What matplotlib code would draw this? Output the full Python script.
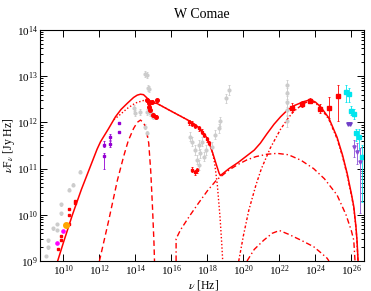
import numpy as np
import matplotlib
matplotlib.use("Agg")
import matplotlib.pyplot as plt
from matplotlib.ticker import FixedLocator, NullLocator, LogLocator, LogFormatterMathtext, NullFormatter

plt.rcParams['font.family'] = ['Liberation Serif', 'DejaVu Serif']
plt.rcParams['mathtext.fontset'] = 'stix'

# ---------------- data (log10 nu, log10 nuFnu) ----------------
# archival (grey)
grey_radio_lognu = [9.06, 9.13, 9.13, 9.41, 9.65, 9.65, 9.89, 9.89, 10.33, 10.54, 10.94]
grey_radio_logf = [9.11, 9.30, 9.45, 9.71, 9.67, 9.80, 10.03, 10.23, 10.54, 10.65, 10.93]
grey_opt_lognu = [13.9, 14.0, 14.28, 14.56, 14.62, 14.74, 14.70, 14.65, 14.83, 15.0, 14.56, 14.65, 14.93]
grey_opt_logf = [12.31, 12.2, 12.23, 13.05, 13.03, 12.72, 12.75, 12.23, 12.2, 12.14, 11.91, 11.76, 12.16]
grey_x_lognu = [17.06, 17.15, 17.33, 17.52, 17.6, 17.8, 17.43, 17.9, 18.26, 17.7, 17.55, 18.44, 18.63, 18.72, 19.05, 19.18]
grey_x_logf = [11.69, 11.58, 11.4, 11.51, 11.33, 11.26, 11.19, 11.4, 11.47, 11.58, 11.08, 11.73, 11.87, 12.02, 12.52, 12.7]
grey_g_lognu = [22.4, 22.4, 22.4, 22.4, 22.4]
grey_g_logf = [12.8, 12.63, 12.45, 12.27, 12.02]

# red (simultaneous data)
red_radio_lognu = [9.68, 9.87, 9.87, 10.33, 10.33, 10.33, 10.65, 10.65]
red_radio_logf = [9.25, 9.45, 9.55, 9.80, 10.0, 10.13, 10.25, 10.30]
magenta_lognu = [9.66, 10.0]
magenta_logf = [9.38, 9.66]
orange_lognu = [10.17]
orange_logf = [9.78]
purple_ir_lognu = [12.24, 12.24, 12.61, 12.61, 13.07, 13.07]
purple_ir_logf = [11.51, 11.28, 11.68, 11.53, 11.98, 11.80]
purple_ir_errlo = [0.05, 0.28, 0.06, 0.06, 0.0, 0.0]
purple_ir_errhi = [0.08, 0.05, 0.07, 0.06, 0.0, 0.0]
red_opt_lognu = [14.65, 14.93, 15.2, 14.74, 14.74, 14.83, 15.0, 15.17]
red_opt_logf = [12.48, 12.45, 12.48, 12.41, 12.34, 12.27, 12.16, 12.12]
red_x_lognu = [16.96, 17.15, 17.33, 17.52, 17.7, 17.8, 17.98, 18.07]
red_x_logf = [12.0, 11.97, 11.92, 11.87, 11.8, 11.73, 11.63, 11.55]
red_xlow_lognu = [17.15, 17.3, 17.42]
red_xlow_logf = [10.98, 10.92, 10.96]
red_g_lognu = [22.7, 23.26, 23.72, 24.24, 24.74, 25.24]
red_g_logf = [12.32, 12.4, 12.47, 12.3, 12.32, 12.58]
red_g_errlo = [0.09, 0.07, 0.06, 0.1, 0.23, 0.56]
red_g_errhi = [0.09, 0.07, 0.06, 0.1, 0.24, 0.23]
cyan_lognu = [25.71, 25.85, 25.98, 26.13, 26.28, 26.44, 26.59]
cyan_logf = [12.66, 12.61, 12.25, 12.18, 11.76, 11.69, 11.26]
cyan_errlo = [0.21, 0.16, 0.09, 0.11, 0.16, 0.29, 0.98]
cyan_errhi = [0.15, 0.14, 0.1, 0.1, 0.09, 0.16, 0.24]
violet_lognu = [26.13, 26.32, 26.5]
violet_logf = [11.47, 11.35, 11.15]
violet_errlo = [0.22, 0.25, 1.12]
violet_errhi = [0.15, 0.2, 0.3]
violet_ul_lognu = [25.79, 25.94]
violet_ul_logf = [11.97, 11.97]

# model curves
tot_lognu = [9.68, 10.0, 10.5, 11.0, 11.5, 11.87, 12.06, 12.5, 12.89, 13.2, 13.54, 13.9, 14.1, 14.28, 14.45,
             14.56, 14.8, 15.05, 15.2, 16.0, 17.06, 17.33, 17.6, 17.98, 18.1, 18.3, 18.5, 18.65, 18.72,
             19.2, 19.7, 20.2, 20.6, 20.94, 21.3, 21.7, 22.06, 22.4, 22.8, 23.35, 23.72, 24.0, 24.28,
             24.74, 25.2, 25.5, 25.76, 26.0, 26.13, 26.25, 26.31, 26.37]
tot_logf = [9.0, 9.4, 10.0, 10.55, 11.05, 11.42, 11.58, 11.86, 12.12, 12.28, 12.41, 12.54, 12.59, 12.61, 12.6,
            12.56, 12.47, 12.42, 12.41, 12.24, 12.02, 11.95, 11.86, 11.66, 11.55, 11.33, 11.08, 10.9, 10.85,
            11.0, 11.13, 11.28, 11.4, 11.55, 11.75, 11.96, 12.12, 12.25, 12.36, 12.45, 12.49, 12.44, 12.34,
            12.1, 11.68, 11.3, 10.9, 10.45, 10.18, 9.75, 9.45, 9.0]
syn_lognu = [12.8, 13.0, 13.54, 14.0, 14.5, 14.9, 15.2, 17.06, 17.5, 17.9, 18.1, 18.25, 18.4, 18.55, 18.7, 18.8, 18.85]
syn_logf = [12.06, 12.12, 12.3, 12.42, 12.48, 12.46, 12.41, 12.02, 11.88, 11.7, 11.56, 11.4, 11.12, 10.65, 9.95, 9.35, 9.0]
disk_lognu = [12.0, 12.5, 13.0, 13.35, 13.6, 13.9, 14.1, 14.28, 14.45, 14.6, 14.74, 14.85, 14.95, 15.03, 15.06]
disk_logf = [9.0, 9.85, 10.75, 11.27, 11.6, 11.87, 12.0, 12.05, 12.0, 11.85, 11.55, 10.95, 10.15, 9.4, 9.0]
ssc_lognu = [16.26, 16.26, 16.5, 17.0, 17.5, 18.0, 18.5, 18.72, 19.2, 19.7, 20.2, 20.7, 21.3, 21.87, 22.5,
             23.2, 23.9, 24.5, 25.2, 25.7, 26.0, 26.13, 26.2]
ssc_logf = [9.0, 9.48, 9.67, 9.97, 10.25, 10.52, 10.75, 10.82, 10.97, 11.09, 11.19, 11.26, 11.31, 11.33, 11.3,
            11.18, 11.0, 10.78, 10.43, 10.0, 9.65, 9.45, 9.0]
ec_lognu = [19.74, 20.0, 20.3, 20.7, 21.0, 21.5, 22.06, 22.5, 22.8, 23.35, 23.72, 24.0, 24.28, 24.74, 25.2,
            25.5, 25.76, 26.0, 26.13, 26.25, 26.31, 26.36]
ec_logf = [9.0, 9.55, 10.1, 10.65, 11.0, 11.45, 11.85, 12.1, 12.24, 12.41, 12.47, 12.42, 12.32, 12.07, 11.65,
           11.27, 10.87, 10.42, 10.15, 9.72, 9.43, 9.0]
ssc2_lognu = [20.2, 20.6, 21.13, 21.6, 22.0, 22.5, 23.2, 23.9, 24.3, 24.65, 24.75]
ssc2_logf = [9.0, 9.25, 9.45, 9.6, 9.66, 9.58, 9.45, 9.31, 9.18, 9.06, 9.0]

xtick_exps = [10, 12, 14, 16, 18, 20, 22, 24, 26]

# ---------------- plot ----------------
def p(a):
    return 10 ** np.asarray(a, dtype=float)


def yerr_of(logf, lo, hi):
    f = p(logf)
    return [f * (1 - 10 ** -np.asarray(lo, dtype=float)), f * (10 ** np.asarray(hi, dtype=float) - 1)]


W, H = 371, 291
fig = plt.figure(figsize=(W / 100, H / 100), dpi=100)
ax = fig.add_axes([40 / W, 1 - 261 / H, 324 / W, 231 / H])
ax.set_xscale('log')
ax.set_yscale('log')

RED = '#ff0000'
GREY = '#cccccc'
ms = 2.0
ebk = dict(elinewidth=0.6, capsize=0.9, capthick=0.6, linestyle='none')

# grey archival
for lx, ly, e in [(grey_radio_lognu, grey_radio_logf, 0.03), (grey_opt_lognu, grey_opt_logf, 0.06),
                  (grey_x_lognu, grey_x_logf, 0.1), (grey_g_lognu, grey_g_logf, 0.12)]:
    ax.errorbar(p(lx), p(ly), yerr=yerr_of(ly, [e] * len(ly), [e] * len(ly)),
                fmt='o', color=GREY, ms=ms, **ebk)

# models
lw = 1.0
ax.plot(p(disk_lognu), p(disk_logf), color=RED, lw=lw, ls=(0, (4, 2.5)))
ax.plot(p(syn_lognu), p(syn_logf), color=RED, lw=lw, ls=(0, (1, 1.5)))
ax.plot(p(ssc_lognu), p(ssc_logf), color=RED, lw=lw, ls=(0, (4, 2, 1, 2)))
ax.plot(p(ec_lognu), p(ec_logf), color=RED, lw=lw, ls=(0, (2, 1.5, 1, 1.5)))
ax.plot(p(ssc2_lognu), p(ssc2_logf), color=RED, lw=lw, ls=(0, (4, 2, 1, 2)))
ax.plot(p(tot_lognu), p(tot_logf), color=RED, lw=1.1)

# coloured data
ax.plot(p(red_radio_lognu), p(red_radio_logf), 's', color=RED, ms=ms)
ax.plot(p(magenta_lognu), p(magenta_logf), 'o', color='#ff00ff', ms=ms + 0.3)
ax.plot(p(orange_lognu), p(orange_logf), 'o', color='#ffa500', ms=ms + 2.0)
ax.errorbar(p(purple_ir_lognu), p(purple_ir_logf), yerr=yerr_of(purple_ir_logf, purple_ir_errlo, purple_ir_errhi),
            fmt='s', color='#9400d3', ms=ms, **ebk)
ax.errorbar(p(red_opt_lognu), p(red_opt_logf), yerr=yerr_of(red_opt_logf, [0.03] * 8, [0.03] * 8),
            fmt='o', color=RED, ms=ms + 0.6, **ebk)
xf = p(red_x_lognu)
ax.errorbar(xf, p(red_x_logf), xerr=[xf * (1 - 10 ** -0.06), xf * (10 ** 0.06 - 1)],
            yerr=yerr_of(red_x_logf, [0.05] * 8, [0.05] * 8), fmt='s', color=RED, ms=ms, **ebk)
xl = p(red_xlow_lognu)
ax.errorbar(xl, p(red_xlow_logf), xerr=[xl * (1 - 10 ** -0.06), xl * (10 ** 0.06 - 1)],
            yerr=yerr_of(red_xlow_logf, [0.05] * 3, [0.05] * 3), fmt='s', color=RED, ms=ms, **ebk)
ax.errorbar(p(red_g_lognu), p(red_g_logf), yerr=yerr_of(red_g_logf, red_g_errlo, red_g_errhi),
            fmt='s', color=RED, ms=ms + 0.4, **ebk)
ax.errorbar(p(cyan_lognu), p(cyan_logf), yerr=yerr_of(cyan_logf, cyan_errlo, cyan_errhi),
            fmt='s', color='#00e5ee', ms=ms + 0.3, **ebk)
ax.errorbar(p(violet_lognu), p(violet_logf), yerr=yerr_of(violet_logf, violet_errlo, violet_errhi),
            fmt='v', color='#8a4fd6', ms=ms + 0.3, **ebk)
ax.plot(p(violet_ul_lognu), p(violet_ul_logf), 'v', color='#7040c8', ms=ms + 0.5)

# axes
ax.set_xlim(5e8, 5e26)
ax.set_ylim(1e9, 1e14)
ax.xaxis.set_major_locator(FixedLocator([10.0 ** e for e in xtick_exps]))
ax.xaxis.set_minor_locator(NullLocator())
ax.xaxis.set_major_formatter(LogFormatterMathtext())
ax.yaxis.set_major_locator(LogLocator(base=10, numticks=20))
ax.yaxis.set_minor_locator(LogLocator(base=10, subs=np.arange(2, 10), numticks=20))
ax.yaxis.set_minor_formatter(NullFormatter())
ax.tick_params(which='both', direction='in', top=True, right=True, labelsize=8, width=0.7)
ax.tick_params(which='major', length=5, pad=1.5)
ax.tick_params(which='minor', length=2.5)
for s in ax.spines.values():
    s.set_linewidth(0.8)

fig.text(204 / W, 1 - 284.5 / H, r'$\nu$ [Hz]', fontsize=8.5, ha='center', va='center')
fig.text(9 / W, 1 - 145 / H, r'$\nu$F$_\nu$ [Jy Hz]', fontsize=8.5, ha='center', va='center', rotation=90)
fig.text(202 / W, 1 - 15 / H, 'W Comae', fontsize=10, ha='center', va='center')

fig.savefig('out.png', dpi=100)
